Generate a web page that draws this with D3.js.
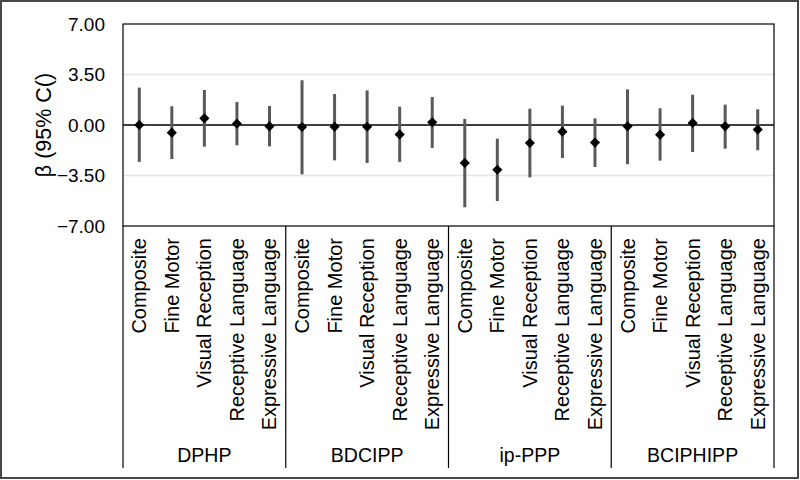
<!DOCTYPE html>
<html><head><meta charset="utf-8">
<script src="https://cdn.jsdelivr.net/npm/d3@7"></script>
<style>html,body{margin:0;padding:0;background:#fff;}svg{display:block;}</style>
</head><body>
<svg id="chart" width="800" height="480"></svg>
<script>
const groups = ["DPHP", "BDCIPP", "ip-PPP", "BCIPHIPP"];
const outcomes = ["Composite", "Fine Motor", "Visual Reception", "Receptive Language", "Expressive Language"];
const beta = [
  [0.00, -0.53, 0.46, 0.09, -0.09],
  [-0.14, -0.12, -0.12, -0.65, 0.19],
  [-2.63, -3.10, -1.25, -0.46, -1.22],
  [-0.09, -0.67, 0.14, -0.09, -0.32]
];
const lower = [
  [-2.56, -2.36, -1.50, -1.41, -1.48],
  [-3.42, -2.45, -2.63, -2.56, -1.59],
  [-5.70, -5.27, -3.63, -2.29, -2.91],
  [-2.72, -2.47, -1.87, -1.64, -1.75]
];
const upper = [
  [2.59, 1.30, 2.43, 1.60, 1.32],
  [3.10, 2.15, 2.40, 1.27, 1.94],
  [0.42, -0.95, 1.13, 1.34, 0.46],
  [2.47, 1.16, 2.10, 1.41, 1.09]
];
const yTicks = [-7, -3.5, 0, 3.5, 7];
const yTitle = "β (95% C()";

const rows = [];
groups.forEach((g, gi) => outcomes.forEach((o, oi) => rows.push({
  key: g + "|" + o, group: g, outcome: o, b: beta[gi][oi], lo: lower[gi][oi], hi: upper[gi][oi]
})));

const svg = d3.select("#chart");
const L = 123, R = 774, T = 24, B = 226, axisBottom = 468;
const font = "Liberation Sans, Arial, sans-serif";

svg.append("rect").attr("x", 1).attr("y", 1).attr("width", 797).attr("height", 477)
  .attr("fill", "#fff").attr("stroke", "#474747").attr("stroke-width", 2);

const x = d3.scaleBand().domain(rows.map(d => d.key)).range([L, R]);
const y = d3.scaleLinear().domain([-7, 7]).range([B, T]);

// gridlines
svg.append("g").selectAll("line").data(yTicks.filter(t => t !== 0 && t !== 7 && t !== -7)).join("line")
  .attr("x1", L).attr("x2", R).attr("y1", d => y(d)).attr("y2", d => y(d))
  .attr("stroke", "#e6e6e6").attr("stroke-width", 1.5);

// y axis labels
const yAxis = d3.axisLeft(y).tickValues(yTicks).tickFormat(d3.format(".2f")).tickSize(0).tickPadding(18);
const ya = svg.append("g").attr("transform", `translate(${L},0)`).call(yAxis);
ya.select(".domain").remove();
ya.selectAll("text").attr("font-family", font).attr("font-size", 19).attr("fill", "#000");

// y title
svg.append("text").attr("transform", `translate(51,${(T + B) / 2}) rotate(-90)`)
  .attr("text-anchor", "middle").attr("font-family", font).attr("font-size", 21.5).text(yTitle);

// plot border
svg.append("rect").attr("x", L).attr("y", T).attr("width", R - L).attr("height", B - T)
  .attr("fill", "none").attr("stroke", "#000").attr("stroke-width", 1.2);

// zero line
svg.append("line").attr("x1", L).attr("x2", R).attr("y1", y(0)).attr("y2", y(0))
  .attr("stroke", "#000").attr("stroke-width", 1.5);

// error bars
svg.append("g").selectAll("line").data(rows).join("line")
  .attr("x1", d => x(d.key) + x.bandwidth() / 2).attr("x2", d => x(d.key) + x.bandwidth() / 2)
  .attr("y1", d => y(d.lo)).attr("y2", d => y(d.hi))
  .attr("stroke", "#595959").attr("stroke-width", 3);

// markers
svg.append("g").selectAll("path").data(rows).join("path")
  .attr("d", d3.symbol(d3.symbolDiamond2, 66))
  .attr("transform", d => `translate(${x(d.key) + x.bandwidth() / 2},${y(d.b)})`)
  .attr("fill", "#000");

// category labels
svg.append("g").selectAll("text").data(rows).join("text")
  .attr("transform", d => `translate(${x(d.key) + x.bandwidth() / 2 + 7},${B + 12}) rotate(-90)`)
  .attr("text-anchor", "end").attr("font-family", font).attr("font-size", 20).text(d => d.outcome);

// group separators
const gx = groups.map((g, i) => x(g + "|" + outcomes[0]));
gx.push(R);
svg.append("g").selectAll("line").data(gx).join("line")
  .attr("x1", d => d).attr("x2", d => d).attr("y1", B).attr("y2", axisBottom)
  .attr("stroke", "#000").attr("stroke-width", 1.2);

// group labels
svg.append("g").selectAll("text").data(groups).join("text")
  .attr("x", (g, i) => (gx[i] + gx[i + 1]) / 2).attr("y", 462)
  .attr("text-anchor", "middle").attr("font-family", font).attr("font-size", 19.5).text(d => d);
</script>
</body></html>
